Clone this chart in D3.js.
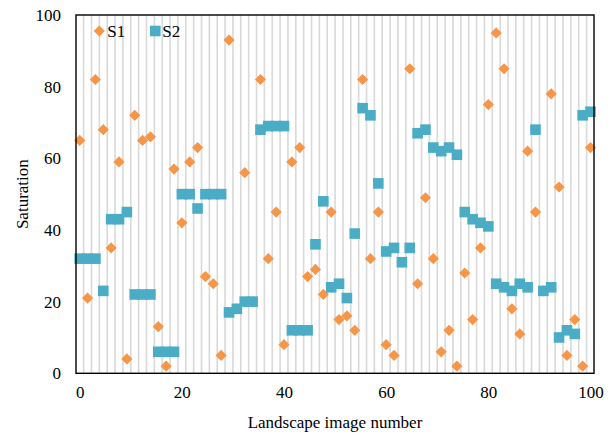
<!DOCTYPE html>
<html>
<head>
<meta charset="utf-8">
<script src="https://cdn.jsdelivr.net/npm/d3@7"></script>
<style>
body { margin: 0; background: #fff; }
</style>
</head>
<body>
<script>
// values, one per landscape image (left to right)
var s1 = [65, 21, 82, 68, 35, 59, 4, 72, 65, 66, 13, 2, 57, 42, 59, 63, 27, 25, 5, 93,
          18, 56, 20, 82, 32, 45, 8, 59, 63, 27, 29, 22, 45, 15, 16, 12, 82, 32, 45, 8,
          5, 31, 85, 25, 49, 32, 6, 12, 2, 28, 15, 35, 75, 95, 85, 18, 11, 62, 45, 23,
          78, 52, 5, 15, 2, 63];
var s2 = [32, 32, 32, 23, 43, 43, 45, 22, 22, 22, 6, 6, 6, 50, 50, 46, 50, 50, 50, 17,
          18, 20, 20, 68, 69, 69, 69, 12, 12, 12, 36, 48, 24, 25, 21, 39, 74, 72, 53, 34,
          35, 31, 35, 67, 68, 63, 62, 63, 61, 45, 43, 42, 41, 25, 24, 23, 25, 24, 68, 23,
          24, 10, 12, 11, 72, 73];
var xTicks = [0, 20, 40, 60, 80, 100];
var yTicks = [0, 20, 40, 60, 80, 100];
var seriesNames = ["S1", "S2"];
var colors = ["#F79646", "#4BACC6"];

var width = 616;
var height = 437;
var plotLeft = 76, plotRight = 594, plotTop = 15, plotBottom = 373.3;
var font = "'Liberation Serif', 'Times New Roman', serif";

var n = s1.length;
var xs = s1.map(function(d, i){ return i * 100 / (n - 1); });

var xScale = d3.scaleLinear()
               .domain([0, 100])
               .range([79.7, 590.5]);

var yScale = d3.scaleLinear()
               .domain([0, 100])
               .range([plotBottom, plotTop]);

var svg = d3.select("body")
            .append("svg")
            .attr("width", width)
            .attr("height", height);

// light vertical lines between neighbouring images
svg.selectAll(".grid")
   .data(xs.slice(1))
   .enter()
   .append("line")
   .attr("class", "grid")
   .attr("x1", function(d, i){ return xScale((xs[i] + d) / 2); })
   .attr("x2", function(d, i){ return xScale((xs[i] + d) / 2); })
   .attr("y1", plotTop)
   .attr("y2", plotBottom)
   .attr("stroke", "#d9d9d9")
   .attr("stroke-width", 1.6);

var diamond = "M0,-5.6L5.6,0L0,5.6L-5.6,0Z";
var sq = 10.6;

svg.selectAll(".s1")
   .data(s1)
   .enter()
   .append("path")
   .attr("class", "s1")
   .attr("d", diamond)
   .attr("transform", function(d, i){
     return "translate(" + xScale(xs[i]) + "," + yScale(d) + ")";
   })
   .attr("fill", colors[0]);

svg.selectAll(".s2")
   .data(s2)
   .enter()
   .append("rect")
   .attr("class", "s2")
   .attr("x", function(d, i){ return xScale(xs[i]) - sq / 2; })
   .attr("y", function(d){ return yScale(d) - sq / 2; })
   .attr("width", sq)
   .attr("height", sq)
   .attr("fill", colors[1]);

// frame
svg.append("rect")
   .attr("x", plotLeft)
   .attr("y", plotTop)
   .attr("width", plotRight - plotLeft)
   .attr("height", plotBottom - plotTop)
   .attr("fill", "none")
   .attr("stroke", "#000")
   .attr("stroke-width", 1.4);

var xAxis = svg.append("g")
               .attr("transform", "translate(0," + plotBottom + ")")
               .call(d3.axisBottom(xScale).tickValues(xTicks).tickSize(0).tickPadding(13));
xAxis.select(".domain").remove();
xAxis.attr("font-family", font).attr("font-size", 17);
xAxis.selectAll("text").attr("fill", "#000");

var yAxis = svg.append("g")
               .attr("transform", "translate(" + plotLeft + ",0)")
               .call(d3.axisLeft(yScale).tickValues(yTicks).tickSize(0).tickPadding(15));
yAxis.select(".domain").remove();
yAxis.attr("font-family", font).attr("font-size", 17);
yAxis.selectAll("text").attr("fill", "#000");

svg.append("text")
   .attr("x", (plotLeft + plotRight) / 2)
   .attr("y", 428)
   .attr("text-anchor", "middle")
   .attr("font-family", font)
   .attr("font-size", 17)
   .text("Landscape image number");

svg.append("text")
   .attr("transform", "translate(22," + (plotTop + plotBottom) / 2 + ") rotate(-90)")
   .attr("text-anchor", "middle")
   .attr("dy", "0.35em")
   .attr("font-family", font)
   .attr("font-size", 17)
   .text("Saturation");

// legend
var legend = svg.append("g");
legend.append("path")
      .attr("d", diamond)
      .attr("transform", "translate(99.3,31)")
      .attr("fill", colors[0]);
legend.append("rect")
      .attr("x", 155.3 - sq / 2)
      .attr("y", 31 - sq / 2)
      .attr("width", sq)
      .attr("height", sq)
      .attr("fill", colors[1]);
legend.selectAll("text")
      .data(seriesNames)
      .enter()
      .append("text")
      .attr("x", function(d, i){ return i == 0 ? 107.3 : 162.3; })
      .attr("y", 31)
      .attr("dy", "0.35em")
      .attr("font-family", font)
      .attr("font-size", 17)
      .text(function(d){ return d; });
</script>
</body>
</html>
